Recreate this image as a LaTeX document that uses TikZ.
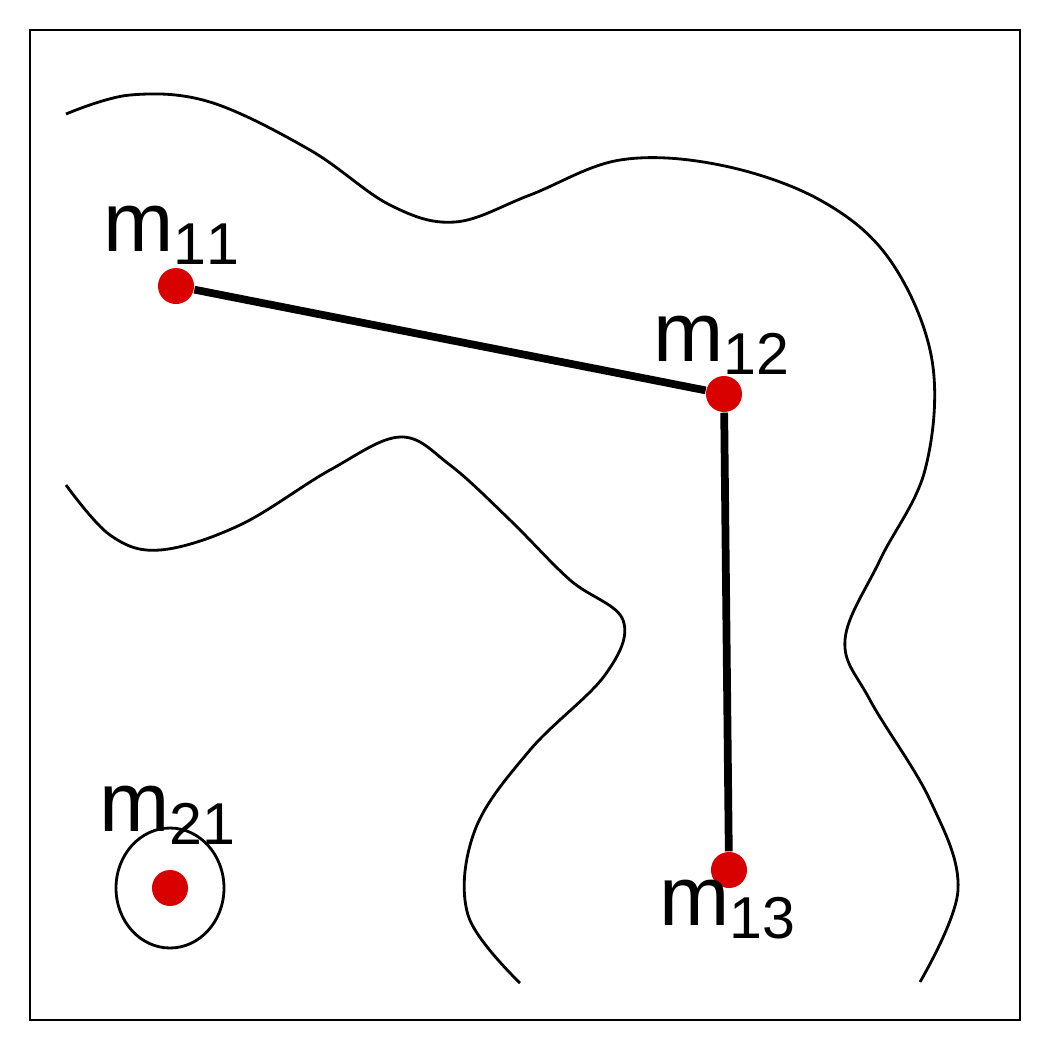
\documentclass[tikz,border=0pt]{standalone}
\usepackage{fontspec}
\setmainfont{Liberation Sans}
\usetikzlibrary{positioning}
\tikzset{site/.style={circle, fill=red!85!black, inner sep=0pt, minimum size=0.36cm},
  lab/.style={font=\fontsize{24}{28}\selectfont},
  link/.style={line width=2.2pt},
  contour/.style={line width=0.8pt}}
\begin{document}
\begin{tikzpicture}[x=0.01cm,y=-0.01cm]
\useasboundingbox (0,0) rectangle (1050,1050);
\draw[line width=0.5pt] (30,30) rectangle (1020,1020);
% level lines
\draw[contour] plot[smooth, tension=0.6] coordinates {(66,114) (130,95) (210,102) (310,150) (390,205) (455,222) (530,195) (620,160) (720,165) (820,200) (890,260) (932,360) (925,470) (880,560) (845,640) (870,700) (930,800) (958,890) (920,982)};
\draw[contour] plot[smooth, tension=0.6] coordinates {(66,485) (110,535) (160,550) (240,525) (330,470) (400,437) (450,465) (510,520) (570,580) (623,620) (605,675) (530,750) (475,830) (468,915) (520,983)};
\draw[contour] (170,888) ellipse [x radius=54, y radius=60];
% sites
\node (m11) [site] at (176,286) {};
\node (m12) [site] at (724,394) {};
\node (m13) [site] at (729,870) {};
\node (m21) [site] at (170,888) {};
\draw[link] (m11) -- (m12);
\draw[link] (m12) -- (m13);
\node[lab] at (172,235) {m$_{\mathrm{11}}$};
\node[lab] at (722,345) {m$_{\mathrm{12}}$};
\node[lab] at (728,910) {m$_{\mathrm{13}}$};
\node[lab] at (168,815) {m$_{\mathrm{21}}$};
\end{tikzpicture}
\end{document}
